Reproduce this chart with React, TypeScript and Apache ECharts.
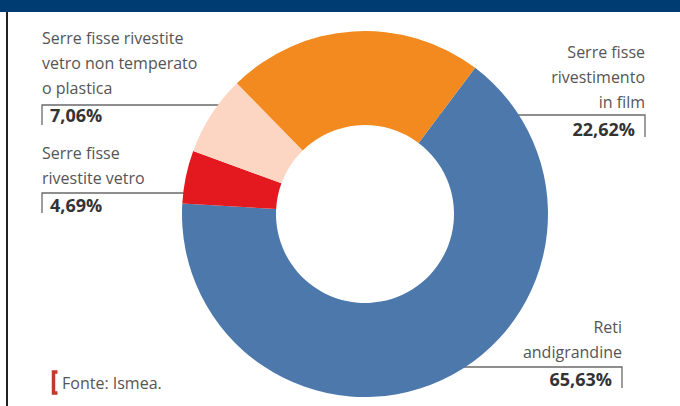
import React, { useEffect, useRef } from "react";
import * as echarts from "echarts";

const categories = [
  "Reti\nandigrandine",
  "Serre fisse\nrivestite vetro",
  "Serre fisse rivestite\nvetro non temperato\no plastica",
  "Serre fisse\nrivestimento\nin film",
];
const values = [65.63, 4.69, 7.06, 22.62];
const colors = ["#4d78ab", "#e3191f", "#fcd6c2", "#f28a1f"];
const source = "Fonte: Ismea.";

// label layout (annotation placement, not data)
const labelPlacement = [
  { x: 622, y: 314, align: "right", line: [[420, 367], [622, 367], [622, 388]] },
  { x: 42, y: 140.5, align: "left", line: [[205, 193], [42, 193], [42, 213]] },
  { x: 42, y: 25.5, align: "left", line: [[235, 105], [42, 105], [42, 125]] },
  { x: 645, y: 39.5, align: "right", line: [[402, 115], [645, 115], [645, 137]] },
];

const FONT = "'Open Sans', 'Noto Sans', sans-serif";

export default function App() {
  const ref = useRef<HTMLDivElement>(null);
  useEffect(() => {
    document.body.style.margin = "0";
    const chart = echarts.init(ref.current!, null, { renderer: "svg" });
    const fmt = (v: number) => v.toFixed(2).replace(".", ",") + "%";
    chart.setOption({
      animation: false,
      backgroundColor: "#ffffff",
      graphic: [
        { type: "rect", shape: { x: 0, y: 0, width: 680, height: 12 }, style: { fill: "#003c71" } },
        { type: "rect", shape: { x: 6, y: 12, width: 2, height: 394 }, style: { fill: "#222222" } },
        {
          type: "polyline",
          shape: { points: [[57.5, 372], [53.5, 372], [53.5, 393], [57.5, 393]] },
          style: { stroke: "#c0392b", lineWidth: 3.5, fill: "none" },
        },
        {
          type: "text",
          x: 62,
          y: 383,
          style: { text: source, fontFamily: FONT, fontSize: 16, fill: "#555555", verticalAlign: "middle" },
        },
      ],
      series: [
        {
          type: "pie",
          center: [365, 214],
          radius: [89, 183],
          startAngle: 53,
          clockwise: true,
          silent: true,
          data: values.map((v, i) => ({ name: categories[i], value: v, itemStyle: { color: colors[i] } })),
          label: {
            show: true,
            position: "outside",
            overflow: "none",
            formatter: (p: any) =>
              p.name
                .split("\n")
                .map((s: string) => `{n|${s}}`)
                .join("\n") + `\n{p|${fmt(p.value)}}`,
            rich: {
              n: { fontFamily: FONT, fontSize: 16, lineHeight: 25, color: "#555555" },
              p: { fontFamily: FONT, fontSize: 18, fontWeight: "bold", lineHeight: 29, color: "#333333", padding: [0, 10, 0, 8] },
            },
          },
          labelLine: { show: true, lineStyle: { color: "#6a6a6a", width: 1.3 } },
          labelLayout: (params: any) => {
            const l = labelPlacement[params.dataIndex];
            return { x: l.x, y: l.y, align: l.align, verticalAlign: "top", labelLinePoints: l.line };
          },
        },
      ],
    });
    return () => chart.dispose();
  }, []);
  return <div ref={ref} style={{ width: 680, height: 406 }} />;
}
